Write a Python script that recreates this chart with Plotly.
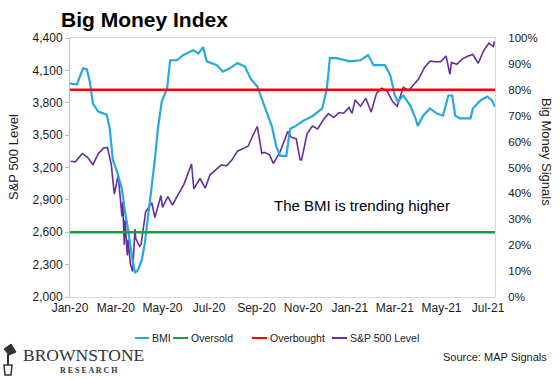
import plotly.graph_objects as go

# ---------------- data ----------------
bmi_dates = ["2020-01-01","2020-01-10","2020-01-18","2020-01-23","2020-01-27","2020-01-31","2020-02-07","2020-02-18",
             "2020-02-22","2020-02-26","2020-03-03","2020-03-09","2020-03-13","2020-03-17","2020-03-22","2020-03-26",
             "2020-03-30","2020-04-04","2020-04-08","2020-04-12","2020-04-17","2020-04-21","2020-04-25","2020-04-30",
             "2020-05-07","2020-05-11","2020-05-20","2020-05-28","2020-06-10","2020-06-17","2020-06-23","2020-06-28",
             "2020-07-11","2020-07-19","2020-07-28","2020-08-07","2020-08-17","2020-08-24","2020-09-02","2020-09-08",
             "2020-09-15","2020-09-21","2020-09-27","2020-10-02","2020-10-10","2020-10-15","2020-10-21","2020-11-01",
             "2020-11-14","2020-11-26","2020-12-02","2020-12-06","2020-12-15","2021-01-01","2021-01-15","2021-01-25",
             "2021-02-01","2021-02-16","2021-02-23","2021-03-01","2021-03-05","2021-03-12","2021-03-21","2021-03-28",
             "2021-03-31","2021-04-07","2021-04-16","2021-04-25","2021-05-03","2021-05-10","2021-05-15","2021-05-19",
             "2021-05-25","2021-06-08","2021-06-11","2021-06-21","2021-06-30","2021-07-06","2021-07-10"]
bmi_values = [82.5,82,88.3,88,83,74.7,71.6,70.4,
              65,53,48,41.6,32.7,26,15.6,9.3,
              10.5,14.4,21,31,41.6,53,65,75.5,
              80.5,91.4,91.4,93.4,95.3,94,96.5,91,
              89.5,87,88.3,90.3,89,84.4,81.3,76.7,
              70.8,66,58,54.5,54.5,65,65.8,68,
              70,72.8,80.5,92.2,92.2,91,91.4,93.4,
              89.5,89.5,85.6,77.8,75.5,77.8,74,69,
              66,70,72.8,70.8,70,77.8,77.8,70,
              69,69,72.8,75.9,77.4,75.9,73.5]

spx_dates = ["2020-01-02","2020-01-08","2020-01-17","2020-01-24","2020-01-31","2020-02-07","2020-02-14","2020-02-19",
             "2020-02-24","2020-02-28","2020-03-04","2020-03-06","2020-03-09","2020-03-10","2020-03-12","2020-03-13",
             "2020-03-16","2020-03-17","2020-03-20","2020-03-23","2020-03-26","2020-03-27","2020-04-01","2020-04-03",
             "2020-04-09","2020-04-17","2020-04-21","2020-04-29","2020-05-01","2020-05-08","2020-05-14","2020-05-22",
             "2020-05-29","2020-06-08","2020-06-11","2020-06-19","2020-06-26","2020-07-02","2020-07-10","2020-07-17",
             "2020-07-24","2020-07-31","2020-08-07","2020-08-14","2020-08-21","2020-08-28","2020-09-02","2020-09-08",
             "2020-09-11","2020-09-18","2020-09-23","2020-10-02","2020-10-12","2020-10-16","2020-10-23","2020-10-28",
             "2020-10-30","2020-11-06","2020-11-13","2020-11-20","2020-11-27","2020-12-04","2020-12-11","2020-12-18",
             "2020-12-24","2020-12-31","2021-01-04","2021-01-08","2021-01-15","2021-01-22","2021-01-29","2021-02-05",
             "2021-02-12","2021-02-19","2021-02-26","2021-03-04","2021-03-12","2021-03-19","2021-03-26","2021-04-01",
             "2021-04-09","2021-04-16","2021-04-23","2021-04-30","2021-05-07","2021-05-12","2021-05-14","2021-05-21",
             "2021-05-28","2021-06-04","2021-06-11","2021-06-18","2021-06-25","2021-07-02","2021-07-08","2021-07-09"]
spx_values = [3258,3253,3330,3295,3226,3328,3380,3386,
              3226,2954,3130,2972,2747,2882,2481,2711,
              2386,2529,2305,2237,2630,2541,2470,2489,
              2790,2875,2737,2940,2831,2930,2852,2955,
              3044,3232,3002,3098,3009,3130,3185,3225,
              3216,3271,3351,3373,3397,3508,3580,3332,
              3341,3319,3237,3348,3535,3483,3465,3271,
              3270,3510,3585,3557,3638,3699,3663,3709,
              3703,3756,3701,3825,3768,3841,3714,3887,
              3934,3907,3811,3768,3943,3913,3975,4020,
              4129,4185,4180,4181,4233,4063,4174,4156,
              4204,4230,4247,4166,4281,4352,4320,4369]

oversold_level = 25
overbought_level = 80
x_start, x_end = "2020-01-01", "2021-07-10"

tick_dates = ["2020-01-01","2020-03-01","2020-05-01","2020-07-01","2020-09-01","2020-11-01",
              "2021-01-01","2021-03-01","2021-05-01","2021-07-01"]
tick_labels = ["Jan-20","Mar-20","May-20","Jul-20","Sep-20","Nov-20","Jan-21","Mar-21","May-21","Jul-21"]

series_names = ["BMI", "Oversold", "Overbought", "S&P 500 Level"]

# ---------------- styles ----------------
FONT = "Liberation Sans, Arial, sans-serif"
SERIF = "Liberation Serif, Times New Roman, serif"
C_BMI = "#29A8E0"
C_GREEN = "#14A043"
C_RED = "#FF0000"
C_PURPLE = "#62309A"
TXT = "#1a1a1a"
colors = [C_BMI, C_GREEN, C_RED, C_PURPLE]

L, R, T, B, W, H = 70, 65, 38, 83, 560, 380
PW, PH = W - L - R, H - T - B


def px(xp):
    return (xp - L) / PW


def py(yp):
    return (H - B - yp) / PH


fig = go.Figure()
fig.add_trace(go.Scatter(x=bmi_dates, y=bmi_values, name=series_names[0], mode="lines",
                         line=dict(color=C_BMI, width=2.2), yaxis="y2"))
fig.add_trace(go.Scatter(x=[x_start, x_end], y=[oversold_level] * 2, name=series_names[1], mode="lines",
                         line=dict(color=C_GREEN, width=2.5), yaxis="y2"))
fig.add_trace(go.Scatter(x=[x_start, x_end], y=[overbought_level] * 2, name=series_names[2], mode="lines",
                         line=dict(color=C_RED, width=2.5), yaxis="y2"))
fig.add_trace(go.Scatter(x=spx_dates, y=spx_values, name=series_names[3], mode="lines",
                         line=dict(color=C_PURPLE, width=1.6), yaxis="y"))

fig.update_layout(
    width=W, height=H,
    margin=dict(l=L, r=R, t=T, b=B, autoexpand=False),
    paper_bgcolor="white", plot_bgcolor="white",
    font=dict(family=FONT, size=12, color=TXT),
    showlegend=False,
    xaxis=dict(type="date", range=[x_start, x_end], tickvals=tick_dates, ticktext=tick_labels,
               showgrid=False, zeroline=False, showline=True, linecolor="#D9D9D9", linewidth=1,
               mirror=True, ticks="", tickfont=dict(size=12, color=TXT), automargin=False),
    yaxis=dict(range=[2000, 4400], dtick=300, tick0=2000, tickformat=",", showgrid=False,
               zeroline=False, showline=True, linecolor="#BFBFBF", linewidth=1, automargin=False,
               ticks="outside", ticklen=4, tickcolor="#BFBFBF", tickfont=dict(size=12, color=TXT)),
    yaxis2=dict(range=[0, 100], dtick=10, ticksuffix="%", overlaying="y", side="right",
                showgrid=False, zeroline=False, showline=True, linecolor="#D9D9D9", linewidth=1,
                ticks="", tickfont=dict(size=11.5, color=TXT), ticklabelstandoff=10, automargin=False),
)

# Title
fig.add_annotation(text="<b>Big Money Index</b>", xref="paper", yref="paper", x=px(59), y=py(20),
                   xanchor="left", yanchor="middle", showarrow=False,
                   font=dict(size=21, color="#000000", family=FONT))
# Axis titles
fig.add_annotation(text="S&P 500 Level", xref="paper", yref="paper", x=px(13), y=py(157),
                   xanchor="center", yanchor="middle", textangle=-90, showarrow=False,
                   font=dict(size=13, color=TXT))
fig.add_annotation(text="Big Money Signals", xref="paper", yref="paper", x=px(547), y=py(152),
                   xanchor="center", yanchor="middle", textangle=90, showarrow=False,
                   font=dict(size=13, color=TXT))
# In-chart comment
fig.add_annotation(text="The BMI is trending higher", xref="paper", yref="paper", x=px(272), y=py(205),
                   xanchor="left", yanchor="middle", showarrow=False,
                   font=dict(size=15, color="#000000"))
# Source
fig.add_annotation(text="Source: MAP Signals", xref="paper", yref="paper", x=px(549), y=py(357),
                   xanchor="right", yanchor="middle", showarrow=False,
                   font=dict(size=11, color=TXT))

# Manual legend (line swatch + label)
leg_y = 338
leg_items = [(135, 149), (173, 188), (252, 267), (332, 347)]
for (x0, x1), name, col in zip(leg_items, series_names, colors):
    fig.add_shape(type="line", xref="paper", yref="paper", x0=px(x0), x1=px(x1), y0=py(leg_y), y1=py(leg_y),
                  line=dict(color=col, width=2))
    fig.add_annotation(text=name, xref="paper", yref="paper", x=px(x1 + 1), y=py(leg_y),
                       xanchor="left", yanchor="middle", showarrow=False,
                       font=dict(size=10.5, color=TXT))

# Logo text
fig.add_annotation(text="BROWNSTONE", xref="paper", yref="paper", x=px(21), y=py(355),
                   xanchor="left", yanchor="middle", showarrow=False,
                   font=dict(size=17.5, color="#333333", family=SERIF))
fig.add_annotation(text="<b>R E S E A R C H</b>", xref="paper", yref="paper", x=px(58), y=py(371),
                   xanchor="left", yanchor="middle", showarrow=False,
                   font=dict(size=8, color="#333333", family=SERIF))
# Logo emblem (simple lantern shape)
fig.add_shape(type="path", xref="paper", yref="paper",
              path=f"M {px(4)} {py(349)} L {px(11)} {py(344)} L {px(16)} {py(352)} L {px(9)} {py(355)} Z",
              fillcolor="#333333", line=dict(color="#333333", width=1))
fig.add_shape(type="line", xref="paper", yref="paper", x0=px(8), y0=py(354), x1=px(8), y1=py(366),
              line=dict(color="#333333", width=2))
fig.add_shape(type="path", xref="paper", yref="paper",
              path=f"M {px(4)} {py(365)} L {px(12)} {py(365)} L {px(11)} {py(375)} L {px(5)} {py(375)} Z",
              fillcolor="white", line=dict(color="#333333", width=1.5))

fig.write_html("out.html", config={"displayModeBar": False},
               post_script="document.body.style.margin='0px';")
